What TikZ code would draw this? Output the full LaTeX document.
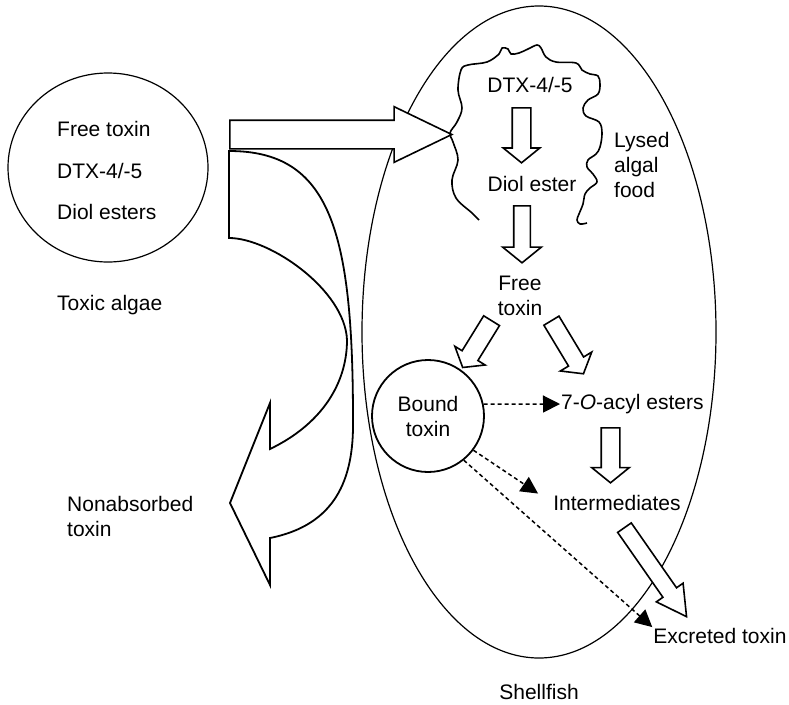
\documentclass[tikz,border=0pt]{standalone}
\usepackage{fontspec}
\setmainfont{Liberation Sans}
\usetikzlibrary{shapes.geometric,shapes.arrows,arrows.meta}

\begin{document}
\begin{tikzpicture}[x=1pt, y=-1pt,
  every node/.style={font=\fontsize{21}{25}\selectfont, inner sep=1pt},
  fatarrow/.style={single arrow, draw, fill=white, line width=1.6pt, inner xsep=0pt,
    inner ysep=8.5pt, single arrow head indent=0pt, single arrow head extend=9pt,
    single arrow tip angle=102},
  dotarr/.style={line width=1.5pt, dash pattern=on 4pt off 3pt,
    -{Triangle[length=17pt,width=17pt]}}]
\useasboundingbox (0,0) rectangle (789,704);

\node[ellipse, draw, line width=1.2pt, inner sep=0pt, minimum width=200, minimum height=189] (algae) at (108,167.5){};
\node[anchor=west] (t0) at (56,129){Free toxin};
\node[anchor=west] (t1) at (56,171){DTX-4/-5};
\node[anchor=west] (t2) at (56,212){Diol esters};
\node[anchor=west] (t3) at (56,305){Toxic algae};
\node[anchor=west, align=left] (t4) at (66,516.5){Nonabsorbed\\toxin};

\node[ellipse, draw, line width=1.2pt, inner sep=0pt, minimum width=354, minimum height=652] (shell) at (539,332){};
\node (t5) at (539,692){Shellfish};

\draw[line width=1.8pt] (229,151) -- (229,238)
  .. controls (270,238) and (345,290) .. (347,340)
  .. controls (347,385) and (320,425) .. (270,449)
  -- (270,403) -- (230,503) -- (270,585) -- (270,538)
  .. controls (335,525) and (354,480) .. (353,420)
  .. controls (353,230) and (330,151) .. (229,151) -- cycle;

\draw[line width=1.6pt, line join=round] plot[smooth, tension=0.6] coordinates {
  (479,220) (472,213) (456,198) (452,180) (458,160) (453,142) (450,133)
  (457,122) (462,108) (458,90) (461,70) (468,65) (487,62) (499,54) (502,48)
  (508,49) (511,54) (519,53) (528,49) (537,45) (541,48) (546,57) (556,62)
  (576,63) (582,70) (590,74) (598,76) (600,84) (598,94) (588,100) (583,108)
  (586,116) (599,122) (602,133) (600,147) (596,154) (588,160) (587,167)
  (593,174) (597,182) (590,188) (585,194) (583,204) (579,214) (577,220)
  (580,224) (587,223)};

\node[fatarrow, anchor=tail, minimum height=222, inner ysep=13.5, single arrow head extend=13.5, single arrow tip angle=51.5] (fa0) at (229,134.5){};

\node (dtx) at (530,85){DTX-4/-5};
\node (diol) at (532,184){Diol ester};
\node[anchor=west, align=left] (lysed) at (613,165){Lysed\\algal\\food};
\node[align=center] (free) at (520,296){Free\\toxin};
\node[circle, draw, line width=1.8pt, minimum size=112, align=center] (bound) at (428,416){Bound\\toxin};
\node[anchor=west] (acyl) at (560,404){7-\textit{O}-acyl esters};
\node (inter) at (617,503){Intermediates};
\node (excr) at (720,636){Excreted toxin};

\node[fatarrow, anchor=tail, rotate=-90, minimum height=55] (fa1) at (521.5,107){};
\node[fatarrow, anchor=tail, rotate=-90, minimum height=57, inner ysep=7.5, single arrow head extend=11] (fa2) at (522,205){};
\node[fatarrow, anchor=tail, rotate=-121.7, minimum height=55, single arrow head extend=8.5, single arrow tip angle=104] (fa3) at (492,320){};
\node[fatarrow, anchor=tail, rotate=-58.9, minimum height=62, inner ysep=8, single arrow head extend=9.5, single arrow tip angle=104] (fa4) at (551,320){};
\node[fatarrow, anchor=tail, rotate=-90, minimum height=55, single arrow head extend=9.5] (fa5) at (610.5,427){};
\node[fatarrow, anchor=tail, rotate=-55.1, minimum height=108.5, inner ysep=7.5, single arrow head extend=8, single arrow tip angle=58] (fa6) at (624,527){};

\draw[dotarr] (bound.12) -- (acyl.west);
\draw[dotarr, shorten >=17pt] (bound.-37) -- (inter.west);
\draw[dotarr] (bound.-51.5) -- (excr.north west);

\end{tikzpicture}
\end{document}
